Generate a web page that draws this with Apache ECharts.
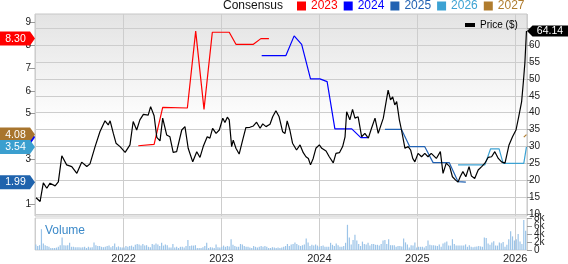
<!DOCTYPE html>
<html><head><meta charset="utf-8">
<script src="https://cdn.jsdelivr.net/npm/echarts@6/dist/echarts.min.js"></script>
<style>html,body{margin:0;padding:0;background:#fff}#c{width:568px;height:264px}</style>
</head><body><div id="c"></div>
<script>
// ---------------- DATA ----------------
const priceDates = [
'2021-02-09','2021-02-24','2021-03-08','2021-03-21','2021-04-02','2021-04-21','2021-05-03','2021-05-16','2021-06-03','2021-06-22',
'2021-07-11','2021-07-29','2021-08-17','2021-08-29','2021-09-17','2021-10-05','2021-10-24','2021-11-05','2021-11-12','2021-11-24',
'2021-12-04','2021-12-19','2022-01-07','2022-01-25','2022-02-06','2022-02-19','2022-03-03','2022-03-16','2022-04-03','2022-04-12',
'2022-04-25','2022-05-05','2022-05-17','2022-05-27','2022-06-11','2022-06-23','2022-07-05','2022-07-18','2022-08-06','2022-08-18',
'2022-08-30','2022-09-16','2022-10-01','2022-10-13','2022-10-25','2022-11-01','2022-11-09','2022-11-19','2022-11-29','2022-12-12',
'2022-12-24','2023-01-06','2023-01-14','2023-01-23','2023-01-30','2023-02-08','2023-02-14','2023-02-24','2023-03-08','2023-03-21',
'2023-04-02','2023-04-17','2023-04-30','2023-05-12','2023-05-25','2023-06-04','2023-06-16','2023-07-01','2023-07-11','2023-07-23',
'2023-08-04','2023-08-17','2023-08-26','2023-09-03','2023-09-13','2023-09-23','2023-10-08','2023-10-21','2023-11-02','2023-11-12',
'2023-11-21','2023-11-29','2023-12-09','2023-12-19','2024-01-01','2024-01-10','2024-01-26','2024-02-07','2024-02-22','2024-03-03',
'2024-03-16','2024-03-28','2024-04-06','2024-04-12','2024-04-24','2024-05-04','2024-05-13','2024-05-25','2024-06-07','2024-06-19',
'2024-07-02','2024-07-14','2024-07-27','2024-08-08','2024-08-27','2024-09-14','2024-09-23','2024-10-01','2024-10-09','2024-10-16',
'2024-10-26','2024-11-03','2024-11-16','2024-11-28','2024-12-07','2024-12-15','2024-12-23','2025-01-04','2025-01-17','2025-01-29',
'2025-02-10','2025-02-22','2025-03-13','2025-03-28','2025-04-07','2025-04-19','2025-05-02','2025-05-12','2025-05-24','2025-06-02',
'2025-06-10','2025-06-20','2025-07-01','2025-07-13','2025-07-22','2025-08-03','2025-08-16','2025-08-29','2025-09-10','2025-09-22',
'2025-10-05','2025-10-17','2025-10-30','2025-11-11','2025-11-24','2025-12-02','2025-12-09','2025-12-22','2026-01-04','2026-01-14',
'2026-01-25','2026-01-31','2026-02-06','2026-02-12'
];
const priceValues = [
14.9,13.8,19.3,17.7,19.2,18.4,19.6,27.3,24.6,24.1,
22.1,25.4,24.1,24.9,30.0,34.4,37.6,36.4,37.6,33.9,
31.0,30.0,28.3,30.5,37.4,34.9,37.9,39.5,39.3,41.8,
39.1,32.7,31.7,38.4,33.4,32.9,28.3,28.5,34.9,35.9,
29.5,25.5,28.5,26.8,30.0,29.5,32.9,32.5,35.4,33.9,
34.9,38.4,37.1,38.7,37.9,30.0,31.9,29.5,27.8,31.9,
35.6,35.7,36.1,37.2,35.4,36.7,35.9,36.6,38.8,40.6,
38.8,34.4,33.9,37.6,34.9,31.0,29.0,30.5,28.2,27.0,
26.5,24.6,26.5,29.5,30.5,29.5,28.7,27.0,25.2,28.0,
28.2,30.0,32.9,40.3,37.9,41.0,38.4,38.8,32.9,33.9,
32.5,35.4,38.4,33.9,38.4,46.7,43.8,44.7,42.3,43.3,
37.9,34.9,29.5,30.0,29.0,26.5,25.5,28.0,27.0,28.0,
27.0,28.0,26.5,28.5,22.1,25.1,24.1,21.1,20.1,19.5,
21.1,22.6,21.1,24.1,21.3,20.6,23.1,24.1,25.1,26.8,
27.0,28.5,26.5,25.5,25.1,28.0,30.5,32.9,34.9,38.8,
43.3,48.7,54.6,64.14
];

const cons2023Dates  = ['2022-02-25','2022-04-25','2022-05-27','2022-08-27','2022-09-27','2022-10-28','2022-11-28','2023-01-30','2023-02-24','2023-04-30','2023-05-28','2023-06-27'];
const cons2023Values = [3.59,3.65,5.28,5.25,8.63,5.19,8.58,8.58,8.05,8.05,8.30,8.30];

const cons2024Dates  = ['2023-05-31','2023-08-29','2023-09-29','2023-10-27','2023-11-29','2024-01-03','2024-01-30','2024-02-28','2024-05-01','2024-06-04','2024-06-29'];
const cons2024Values = [7.55,7.55,8.42,8.05,6.53,6.53,6.41,4.33,4.33,3.95,3.95];

const cons2025Dates  = ['2024-09-02','2024-11-03','2024-12-04','2025-01-29','2025-03-01','2025-04-30','2025-06-02','2025-07-01'];
const cons2025Values = [4.31,4.31,3.55,3.55,2.85,2.85,2.01,1.99];

const cons2026Dates  = ['2025-06-02','2025-09-10','2025-10-01','2025-11-02','2025-11-17','2026-02-02','2026-02-12'];
const cons2026Values = [2.75,2.75,3.45,3.45,2.82,2.82,3.54];

const cons2027Dates  = ['2026-02-02','2026-02-12'];
const cons2027Values = [3.97,4.08];

// weekly volume (thousands), first week below
const volumeStart = '2021-02-08';
const volumeK = [
1.4,1.0,1.2,5.2,1.6,1.2,1.0,0.8,0.5,0.5,
0.5,0.6,0.8,1.2,3.1,1.2,1.1,1.2,1.8,0.8,
0.8,0.7,0.7,0.7,0.6,0.7,0.8,0.5,0.8,0.6,
0.7,1.9,1.2,1.0,1.0,0.8,0.7,0.8,1.0,1.1,
0.7,1.0,1.6,0.7,0.9,0.7,0.6,0.6,1.0,0.8,
1.0,1.1,0.8,1.3,1.5,1.4,1.1,1.5,1.1,1.2,
0.8,0.7,1.5,1.3,1.6,1.4,
1.0,1.8,1.1,1.4,1.2,0.6,0.6,1.5,0.6,0.8,
0.5,0.8,0.8,0.6,1.0,2.5,1.0,1.1,1.1,1.2,
0.5,0.5,0.5,0.7,1.0,1.8,0.5,0.7,0.6,0.5,
1.4,0.7,0.6,0.8,1.1,0.8,1.0,0.9,2.7,1.3,
1.0,0.8,0.8,1.5,1.4,1.0,0.8,0.8,0.6,0.5,
1.0,0.8,0.6,0.8,1.0,0.8,1.0,0.8,0.5,0.5,
0.7,0.6,0.5,0.6,0.5,
0.6,0.8,1.0,1.5,1.0,1.4,1.5,1.9,1.5,1.2,
1.0,1.2,1.4,2.9,1.9,1.0,1.3,1.1,1.4,1.1,
0.8,1.0,1.1,0.8,0.8,0.8,1.8,1.3,1.0,1.6,
1.2,0.8,0.8,1.0,1.8,6.3,3.1,1.4,2.5,3.8,
2.4,1.5,1.0,2.1,1.5,1.4,1.8,1.1,1.5,1.5,
1.3,1.3,1.1,1.5,2.4,2.5,1.5,2.7,1.2,1.2,
1.2,0.8,1.0,1.0,0.9,
2.9,1.9,1.4,0.6,1.2,1.1,1.9,0.6,0.8,0.8,
0.8,0.6,1.0,2.4,1.3,1.2,1.2,1.1,1.0,1.4,
0.8,1.6,1.9,2.1,1.1,1.1,2.7,1.5,1.1,1.1,
1.1,1.1,1.1,1.4,0.8,1.2,0.8,0.7,0.8,0.9,
1.0,0.9,0.8,3.1,3.0,1.6,1.3,1.9,2.2,1.1,
1.1,1.9,1.7,2.0,0.8,1.3,2.7,4.7,3.4,2.4,
2.7,4.0,2.1,1.5,7.5,4.8
];

const yearTicks   = [2022,2023,2024,2025,2026];
const priceTicks  = [10,15,20,25,30,35,40,45,50,55,60];
const epsTicks    = [1,2,3,4,5,6,7,8,9];
const volumeTicks = [0,2,4,6,8];
const volumeTickLabels = ['0','2k','4k','6k','8k'];
const legendYears = ['2023','2024','2025','2026','2027'];

// ---------------- LAYOUT / STYLE ----------------
const FONT = '"Liberation Sans", Arial, Helvetica, sans-serif';
const COLORS = {'2023':'#ff0000','2024':'#0000ff','2025':'#2262b2','2026':'#3ca2d3','2027':'#b07c2e'};
const TAGCOLORS = {'2023':'#ff0000','2024':'#0000ff','2025':'#1f63ad','2026':'#3b9fcf','2027':'#a8752e'};

function toYear(s){
  const p = s.split('-').map(Number);
  const t = Date.UTC(p[0],p[1]-1,p[2]), a = Date.UTC(p[0],0,1), b = Date.UTC(p[0]+1,0,1);
  return p[0] + (t-a)/(b-a);
}
function pairs(dates, vals){ return dates.map((d,i)=>[toYear(d), vals[i]]); }
function weekly(start, vals){
  const p = start.split('-').map(Number);
  return vals.map((v,i)=>{
    const d = new Date(Date.UTC(p[0],p[1]-1,p[2]) + i*7*86400000);
    const s = d.toISOString().slice(0,10);
    return [toYear(s), v];
  });
}
const xMin = toYear('2021-02-05'), xMax = toYear('2026-02-14');
const isInt = v => Math.abs(v - Math.round(v)) < 1e-6;

const cons = {
  '2023':[cons2023Dates,cons2023Values],
  '2024':[cons2024Dates,cons2024Values],
  '2025':[cons2025Dates,cons2025Values],
  '2026':[cons2026Dates,cons2026Values],
  '2027':[cons2027Dates,cons2027Values]
};

const gridLine = {show:true, lineStyle:{color:'#cdcdcd', width:1}};
const xBase = {type:'value', min:xMin, max:xMax, minInterval:1, maxInterval:1,
  axisLine:{show:false}, axisTick:{show:false}, splitLine:gridLine};

const series = legendYears.map(y=>({
  name:y, type:'line', xAxisIndex:0, yAxisIndex:1, data:pairs(cons[y][0], cons[y][1]),
  showSymbol:false, symbol:'none', lineStyle:{color:COLORS[y], width:1.2}, itemStyle:{color:COLORS[y]}, z:3
}));
series.push({name:'Price ($)', type:'line', xAxisIndex:0, yAxisIndex:0, data:pairs(priceDates, priceValues),
  showSymbol:false, symbol:'none', lineStyle:{color:'#000', width:1.2}, itemStyle:{color:'#000'}, z:4});
series.push({name:'Volume', type:'bar', xAxisIndex:1, yAxisIndex:2, data:weekly(volumeStart, volumeK),
  barWidth:1.2, itemStyle:{color:'#9cc4e8'}});

const option = {
  animation:false,
  textStyle:{fontFamily:FONT},
  grid:[
    {left:35, right:41, top:14, height:202, show:true, borderColor:'#c6c6c6', borderWidth:1,
     backgroundColor:{type:'linear',x:0,y:0,x2:0,y2:1,colorStops:[{offset:0,color:'#e3e3e3'},{offset:0.55,color:'#ffffff'},{offset:1,color:'#ffffff'}]}},
    {left:35, right:41, top:218, height:36, show:true, borderColor:'#d2d2d2', borderWidth:1, backgroundColor:'#ffffff'}
  ],
  xAxis:[
    Object.assign({gridIndex:0, axisLabel:{show:false}}, xBase),
    Object.assign({gridIndex:1, axisLabel:{show:true, margin:3, fontSize:11, color:'#222', fontFamily:FONT,
      showMinLabel:false, showMaxLabel:false,
      formatter:v=> (isInt(v) && yearTicks.indexOf(Math.round(v))>=0) ? String(Math.round(v)) : ''}}, xBase)
  ],
  yAxis:[
    {type:'value', gridIndex:0, position:'right', min:9.5, max:69.16, minInterval:5, maxInterval:5, splitNumber:12,
     axisLine:{show:false},
     axisTick:{show:true, length:6, lineStyle:{color:'#9a9a9a'}, customValues:priceTicks.concat([65])},
     axisLabel:{margin:2, fontSize:10, color:'#222', fontFamily:FONT, customValues:priceTicks,
       formatter:v=> (isInt(v) && priceTicks.indexOf(Math.round(v))>=0) ? String(Math.round(v)) : ''},
     splitLine:gridLine},
    {type:'value', gridIndex:0, position:'left', min:0.503, max:9.382, minInterval:1, maxInterval:1, splitNumber:9,
     axisLine:{show:false},
     axisTick:{show:true, length:6, lineStyle:{color:'#9a9a9a'}, customValues:epsTicks},
     axisLabel:{margin:4, fontSize:10, color:'#222', fontFamily:FONT, customValues:epsTicks,
       formatter:v=> (isInt(v) && epsTicks.indexOf(Math.round(v))>=0) ? String(Math.round(v)) : ''},
     splitLine:{show:false}},
    {type:'value', gridIndex:1, position:'right', min:0, max:8, interval:2,
     axisLine:{show:false},
     axisTick:{show:true, length:5, lineStyle:{color:'#9a9a9a'}},
     axisLabel:{show:false},
     splitLine:{show:false}}
  ],
  legend:[
    {data:legendYears.map(y=>({name:y, textStyle:{color:COLORS[y]}})), left:297, top:0, padding:0,
     icon:'rect', itemWidth:9, itemHeight:9, itemGap:6, selectedMode:false,
     textStyle:{fontSize:12, fontFamily:FONT, padding:[0,0,0,0]}},
    {data:['Price ($)'], left:465, top:20, padding:0, icon:'rect', itemWidth:10, itemHeight:4, selectedMode:false,
     textStyle:{fontSize:10, color:'#000', fontFamily:FONT}}
  ],
  graphic:[
    {type:'text', left:223, top:0, z:50, style:{text:'Consensus', fill:'#111', font:'12px '+FONT}},
    {type:'text', left:45, top:225, z:50, style:{text:'Volume', fill:'#3b89c9', font:'12px '+FONT}}
  ],
  series:series
};

const chart = echarts.init(document.getElementById('c'), null, {renderer:'canvas', devicePixelRatio:1});
chart.setOption(option);

// value tags and volume-axis labels, positioned through the chart's own axes
function leftTag(val, color, z){
  const y = chart.convertToPixel({yAxisIndex:1}, val);
  return {type:'group', z:z, children:[
    {type:'polygon', z:z, shape:{points:[[0,y-7],[30,y-7],[35,y],[30,y+7],[0,y+7]]}, style:{fill:color}},
    {type:'text', z:z+1, style:{x:15.5, y:y, text:val.toFixed(2), fill:'#fff', font:'10.5px '+FONT, align:'center', verticalAlign:'middle'}}
  ]};
}
function rightTag(val){
  const y = chart.convertToPixel({yAxisIndex:0}, val);
  return {type:'group', z:120, children:[
    {type:'polygon', z:120, shape:{points:[[527,y],[532.5,y-5.5],[568,y-5.5],[568,y+5.5],[532.5,y+5.5]]}, style:{fill:'#000'}},
    {type:'text', z:121, style:{x:550, y:y+0.5, text:val.toFixed(2), fill:'#fff', font:'10.5px '+FONT, align:'center', verticalAlign:'middle'}}
  ]};
}
const volLabels = volumeTicks.map((v,i)=>({
  type:'text', z:60,
  style:{x:534, y:chart.convertToPixel({yAxisIndex:2}, v), text:volumeTickLabels[i], fill:'#222',
         font:'10px '+FONT, align:'left', verticalAlign:'middle'}
}));
const last = a => a[a.length-1];
chart.setOption({graphic: option.graphic.concat(volLabels, [
  leftTag(last(cons2024Values), TAGCOLORS['2024'], 100),
  leftTag(last(cons2027Values), TAGCOLORS['2027'], 102),
  leftTag(last(cons2026Values), TAGCOLORS['2026'], 104),
  leftTag(last(cons2025Values), TAGCOLORS['2025'], 106),
  leftTag(last(cons2023Values), TAGCOLORS['2023'], 108),
  rightTag(last(priceValues))
])});
</script>
</body></html>
